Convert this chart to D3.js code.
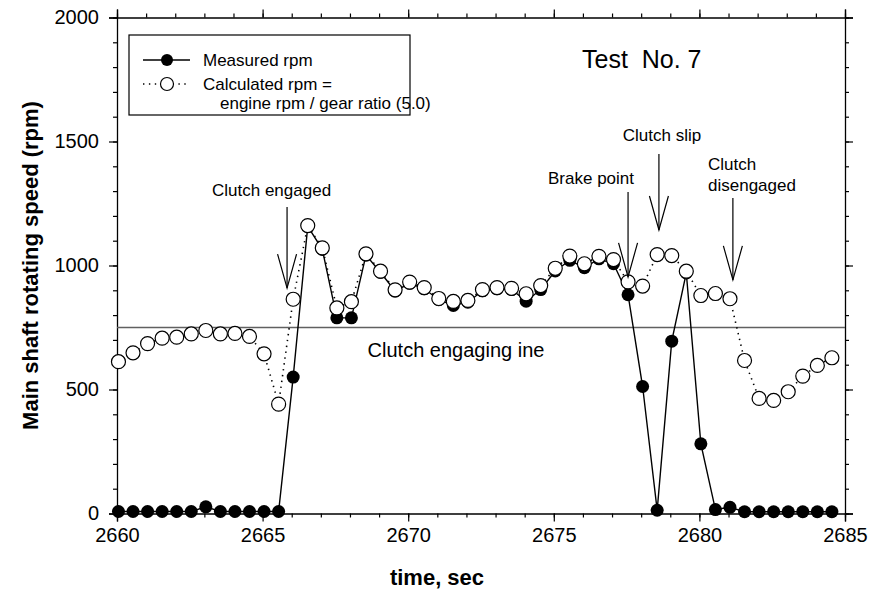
<!DOCTYPE html>
<html>
<head>
<meta charset="utf-8">
<script src="https://cdn.jsdelivr.net/npm/d3@7"></script>
<style>
  body { margin: 0; background: #fff; }
  svg { display: block; font-family: Arial, "Liberation Sans", sans-serif; }
</style>
</head>
<body>
<div id="chart"></div>
<script>
// time of each sample, sec
const times = [2660.05, 2660.55, 2661.05, 2661.55, 2662.05, 2662.55, 2663.05, 2663.55, 2664.05, 2664.55,
  2665.05, 2665.55, 2666.05, 2666.55, 2667.05, 2667.55, 2668.05, 2668.55, 2669.05, 2669.55,
  2670.05, 2670.55, 2671.05, 2671.55, 2672.05, 2672.55, 2673.05, 2673.55, 2674.05, 2674.55,
  2675.05, 2675.55, 2676.05, 2676.55, 2677.05, 2677.55, 2678.05, 2678.55, 2679.05, 2679.55,
  2680.05, 2680.55, 2681.05, 2681.55, 2682.05, 2682.55, 2683.05, 2683.55, 2684.05, 2684.55];

const measured = [8, 8, 8, 8, 8, 8, 27, 8, 8, 8,
  8, 8, 550, 1158, 1065, 789, 789, 1042, 972, 897,
  928, 906, 862, 839, 852, 898, 906, 903, 856, 903,
  978, 1021, 991, 1027, 1007, 882, 512, 13, 695, 970,
  281, 16, 25, 7, 7, 7, 7, 7, 7, 7];

const calculated = [612, 648, 685, 707, 711, 724, 738, 724, 726, 714,
  644, 441, 864, 1161, 1071, 829, 854, 1047, 977, 902,
  933, 911, 867, 855, 859, 903, 911, 908, 886, 919,
  989, 1038, 1007, 1037, 1024, 934, 917, 1044, 1040, 977,
  879, 887, 866, 617, 464, 456, 491, 554, 597, 628];

const xTicks = [2660, 2665, 2670, 2675, 2680, 2685];
const yTicks = [0, 500, 1000, 1500, 2000];
const engagingLevel = 750;

// annotations: label lines, arrow x, arrow top and tip (rpm)
const arrowNotes = [
  { lines: ["Clutch engaged"], t: 2665.84, top: 1236, tip: 909 },
  { lines: ["Brake point"], t: 2677.55, top: 1296, tip: 954 },
  { lines: ["Clutch slip"], t: 2678.61, top: 1450, tip: 1143 },
  { lines: ["Clutch", "disengaged"], t: 2681.15, top: 1272, tip: 942 }
];

const width = 869, height = 598;
const margins = { top: 17.5, right: 24, bottom: 84.5, left: 117 };

const x = d3.scaleLinear().domain([2660, 2685]).range([margins.left, width - margins.right]);
const y = d3.scaleLinear().domain([0, 2000]).range([height - margins.bottom, margins.top]);

const svg = d3.select("#chart").append("svg")
  .attr("width", width)
  .attr("height", height);

const minorX = d3.range(2660, 2686, 1);
const minorY = d3.range(0, 2001, 100);

// axes on all four sides, major + minor ticks pointing out
const addAxis = (gen, scale, pos, transform, major, minor, labels, pad) => {
  svg.append("g")
    .attr("transform", transform)
    .call(gen(scale).tickValues(minor).tickSize(4).tickFormat(""))
    .call(g => g.select(".domain").remove());
  const g = svg.append("g")
    .attr("class", "axis " + pos)
    .attr("transform", transform)
    .call(gen(scale).tickValues(major).tickSize(8).tickPadding(pad)
      .tickFormat(labels ? d3.format("d") : ""));
  g.select(".domain").attr("stroke-width", 1.3);
  g.selectAll("text").attr("font-size", 20).attr("fill", "#000");
  return g;
};

addAxis(d3.axisBottom, x, "bottom", `translate(0,${y(0)})`, xTicks, minorX, true, 6);
addAxis(d3.axisTop, x, "top", `translate(0,${y(2000)})`, xTicks, minorX, false, 6);
addAxis(d3.axisLeft, y, "left", `translate(${x(2660)},0)`, yTicks, minorY, true, 10);
addAxis(d3.axisRight, y, "right", `translate(${x(2685)},0)`, yTicks, minorY, false, 6);

svg.selectAll(".tick line").attr("stroke", "#000").attr("stroke-width", 1.2);

// clutch engaging line
svg.append("line")
  .attr("x1", x(2660)).attr("x2", x(2685))
  .attr("y1", y(engagingLevel)).attr("y2", y(engagingLevel))
  .attr("stroke", "#606060").attr("stroke-width", 1.6);

svg.append("text")
  .attr("x", 456).attr("y", y(engagingLevel) + 29)
  .attr("text-anchor", "middle")
  .attr("font-size", 20)
  .text("Clutch engaging ine");

const line = d3.line()
  .x((d, i) => x(times[i]))
  .y(d => y(d));

// measured rpm
svg.append("path")
  .datum(measured)
  .attr("d", line)
  .attr("fill", "none")
  .attr("stroke", "#000")
  .attr("stroke-width", 1.4);

svg.append("g").selectAll("circle")
  .data(measured)
  .join("circle")
  .attr("cx", (d, i) => x(times[i]))
  .attr("cy", d => y(d))
  .attr("r", 6.5)
  .attr("fill", "#000");

// calculated rpm
svg.append("path")
  .datum(calculated)
  .attr("d", line)
  .attr("fill", "none")
  .attr("stroke", "#000")
  .attr("stroke-width", 1.6)
  .attr("stroke-dasharray", "1.4,4.5");

svg.append("g").selectAll("circle")
  .data(calculated)
  .join("circle")
  .attr("cx", (d, i) => x(times[i]))
  .attr("cy", d => y(d))
  .attr("r", 7)
  .attr("fill", "#fff")
  .attr("stroke", "#000")
  .attr("stroke-width", 1.2);

// arrows and labels
arrowNotes.forEach(n => {
  const ax = x(n.t), top = y(n.top), tip = y(n.tip);
  const g = svg.append("g").attr("stroke", "#000").attr("stroke-width", 1.2).attr("fill", "none");
  g.append("line").attr("x1", ax).attr("x2", ax).attr("y1", top).attr("y2", tip);
  g.append("path").attr("d", `M${ax - 9.5},${tip - 34}L${ax},${tip}L${ax + 9.5},${tip - 34}`);
});

const noteText = [
  { x: 212, y: 196, anchor: "start" },
  { x: 634, y: 184, anchor: "end" },
  { x: 662, y: 141, anchor: "middle" },
  { x: 708, y: 170, anchor: "start" }
];
arrowNotes.forEach((n, k) => {
  const t = svg.append("text")
    .attr("x", noteText[k].x).attr("y", noteText[k].y)
    .attr("text-anchor", noteText[k].anchor)
    .attr("font-size", 17);
  n.lines.forEach((s, j) => {
    t.append("tspan").attr("x", noteText[k].x).attr("dy", j ? 21 : 0).text(s);
  });
});

svg.append("text")
  .attr("x", 582).attr("y", 68)
  .attr("font-size", 25)
  .text("Test\u00a0\u00a0No. 7");

// legend
const legend = svg.append("g").attr("transform", "translate(129,35)");
legend.append("rect")
  .attr("width", 281).attr("height", 80)
  .attr("fill", "#fff").attr("stroke", "#000").attr("stroke-width", 1.2);
legend.append("line")
  .attr("x1", 14).attr("x2", 61).attr("y1", 25).attr("y2", 25)
  .attr("stroke", "#000").attr("stroke-width", 1.4);
legend.append("circle").attr("cx", 38).attr("cy", 25).attr("r", 6).attr("fill", "#000");
legend.append("line")
  .attr("x1", 14).attr("x2", 61).attr("y1", 49).attr("y2", 49)
  .attr("stroke", "#000").attr("stroke-width", 1.6).attr("stroke-dasharray", "1.4,4.5");
legend.append("circle").attr("cx", 38).attr("cy", 49).attr("r", 6.5)
  .attr("fill", "#fff").attr("stroke", "#000").attr("stroke-width", 1.2);
legend.append("text").attr("x", 74).attr("y", 31).attr("font-size", 17).text("Measured rpm");
legend.append("text").attr("x", 74).attr("y", 55).attr("font-size", 17).text("Calculated rpm =");
legend.append("text").attr("x", 91).attr("y", 74).attr("font-size", 17).text("engine rpm / gear ratio (5.0)");

// axis titles
svg.append("text")
  .attr("x", 437).attr("y", 585)
  .attr("text-anchor", "middle")
  .attr("font-size", 22).attr("font-weight", "bold")
  .text("time, sec");

svg.append("text")
  .attr("transform", `translate(38,${y(1000)}) rotate(-90)`)
  .attr("text-anchor", "middle")
  .attr("font-size", 22).attr("font-weight", "bold")
  .text("Main shaft rotating speed (rpm)");
</script>
</body>
</html>
